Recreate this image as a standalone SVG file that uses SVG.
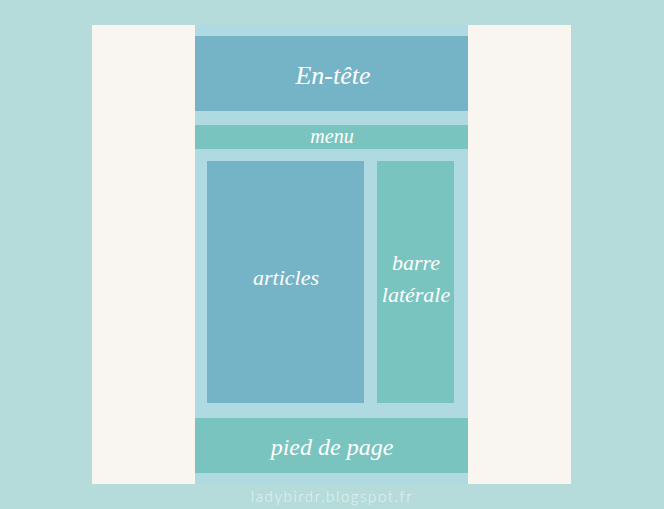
<svg xmlns="http://www.w3.org/2000/svg" width="664" height="509" viewBox="0 0 664 509">
<style>
.lbl{font-family:"Liberation Serif","DejaVu Serif",serif;font-style:italic;fill:#ffffff;text-anchor:middle}
.blue{fill:#75b3c6}
.teal{fill:#7ac4c0}
</style>
<rect x="0" y="0" width="664" height="509" fill="#b5dcdb"/>
<rect x="92" y="25" width="479" height="459" fill="#f9f6f1"/>
<rect x="195" y="25" width="273" height="459" fill="#afdae2"/>
<g id="header"><rect class="blue" x="195" y="36" width="273" height="75"/><text class="lbl" x="333" y="84" font-size="26">En-tête</text></g>
<g id="menu"><rect class="teal" x="195" y="125" width="273" height="24"/><text class="lbl" x="332" y="143" font-size="20">menu</text></g>
<g id="articles"><rect class="blue" x="207" y="161" width="157" height="242"/><text class="lbl" x="286" y="285" font-size="22">articles</text></g>
<g id="sidebar"><rect class="teal" x="377" y="161" width="77" height="242"/><text class="lbl" x="416" y="270" font-size="22">barre</text><text class="lbl" x="416" y="302" font-size="22">latérale</text></g>
<g id="footer"><rect class="teal" x="195" y="418" width="273" height="55"/><text class="lbl" x="332" y="455" font-size="24">pied de page</text></g>
<g id="connectors"></g>
<text x="332" y="502" font-family="Lato,'Open Sans',sans-serif" font-size="15" font-weight="300" letter-spacing="1.6" fill="#e6f2f1" text-anchor="middle">ladybirdr.blogspot.fr</text>
</svg>
